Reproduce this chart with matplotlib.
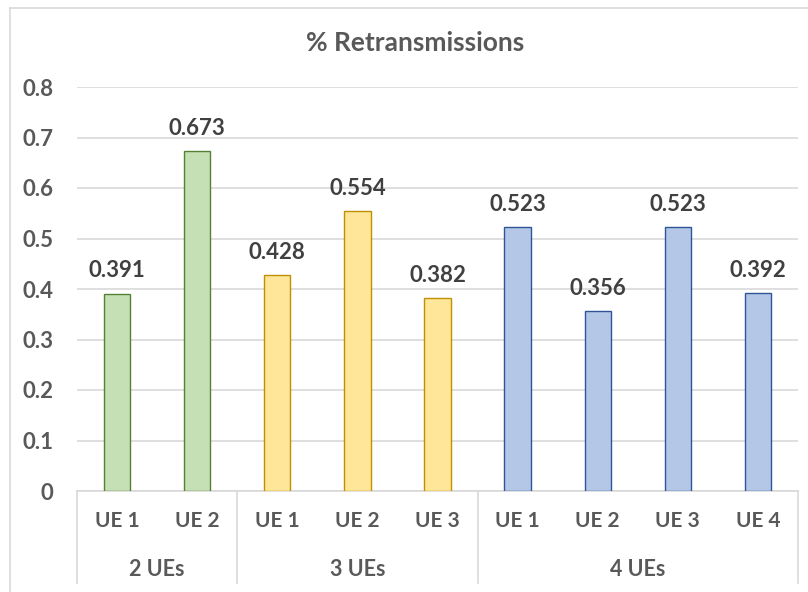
import matplotlib
matplotlib.use('Agg')
import matplotlib.pyplot as plt
import matplotlib.transforms as mtransforms
from matplotlib.lines import Line2D

plt.rcParams['font.family'] = ['Lato', 'DejaVu Sans']

groups = ['2 UEs', '3 UEs', '4 UEs']
group_sizes = [2, 3, 4]
ue_labels = ['UE 1', 'UE 2', 'UE 1', 'UE 2', 'UE 3', 'UE 1', 'UE 2', 'UE 3', 'UE 4']
values = [0.391, 0.673, 0.428, 0.554, 0.382, 0.523, 0.356, 0.523, 0.392]

face_cols = ['#C5E0B4', '#FFE699', '#B4C7E7']
edge_cols = ['#548235', '#BF9000', '#2F5597']

txt = '#595959'
grid = '#D9D9D9'

fig = plt.figure(figsize=(8.08, 5.92), dpi=100)
ax = fig.add_axes([77/808, 1-491/592, 721/808, 404/592])

# colours per bar from the group sizes
fc, ec = [], []
for n, f, e in zip(group_sizes, face_cols, edge_cols):
    fc += [f]*n
    ec += [e]*n

x = list(range(len(values)))
bars = ax.bar(x, values, width=0.33, color=fc, edgecolor=ec, linewidth=1.0, zorder=3)
for xi, v in zip(x, values):
    ax.text(xi, v + 0.024, '{:.3f}'.format(v), ha='center', va='bottom',
            fontsize=16, fontweight='bold', color='#404040')

ax.set_xlim(-0.5, len(values)-0.5)
ax.set_ylim(0, 0.8)
ax.set_yticks([i/10 for i in range(9)])
ax.set_yticklabels(['0'] + ['{:.1f}'.format(i/10) for i in range(1, 9)])
ax.tick_params(axis='y', length=0, pad=17, labelsize=16, labelcolor=txt)
for lab in ax.get_yticklabels():
    lab.set_fontweight('bold')
ax.set_xticks([])
ax.grid(axis='y', color=grid, linewidth=1.2, zorder=0)
for s in ['top', 'right', 'left']:
    ax.spines[s].set_visible(False)
ax.spines['bottom'].set_color(grid)
ax.spines['bottom'].set_linewidth(1.2)

# two-level category axis
trans = mtransforms.blended_transform_factory(ax.transData, ax.transAxes)
bottom = (491-583)/404
for xi, lab in zip(x, ue_labels):
    ax.text(xi, (491-521)/404, lab, transform=trans, ha='center', va='center',
            fontsize=15, fontweight='bold', color=txt)
start = -0.5
ax.add_line(Line2D([start, start], [0, bottom], transform=trans, color=grid,
                   linewidth=1.2, clip_on=False))
for g, n in zip(groups, group_sizes):
    end = start + n
    ax.text((start+end)/2, (491-569)/404, g, transform=trans, ha='center', va='center',
            fontsize=15.5, fontweight='bold', color=txt)
    ax.add_line(Line2D([end, end], [0, bottom], transform=trans, color=grid,
                       linewidth=1.2, clip_on=False))
    start = end

fig.text(415/808, 1-43/592, '% Retransmissions', ha='center', va='center',
         fontsize=19, fontweight='bold', color=txt)

# chart frame
fig.add_artist(Line2D([9.5/808, 9.5/808], [0, 1-7.5/592], transform=fig.transFigure,
                      color=grid, linewidth=1.2))
fig.add_artist(Line2D([9.5/808, 1], [1-7.5/592, 1-7.5/592], transform=fig.transFigure,
                      color=grid, linewidth=1.2))

fig.savefig('out.png', dpi=100)
